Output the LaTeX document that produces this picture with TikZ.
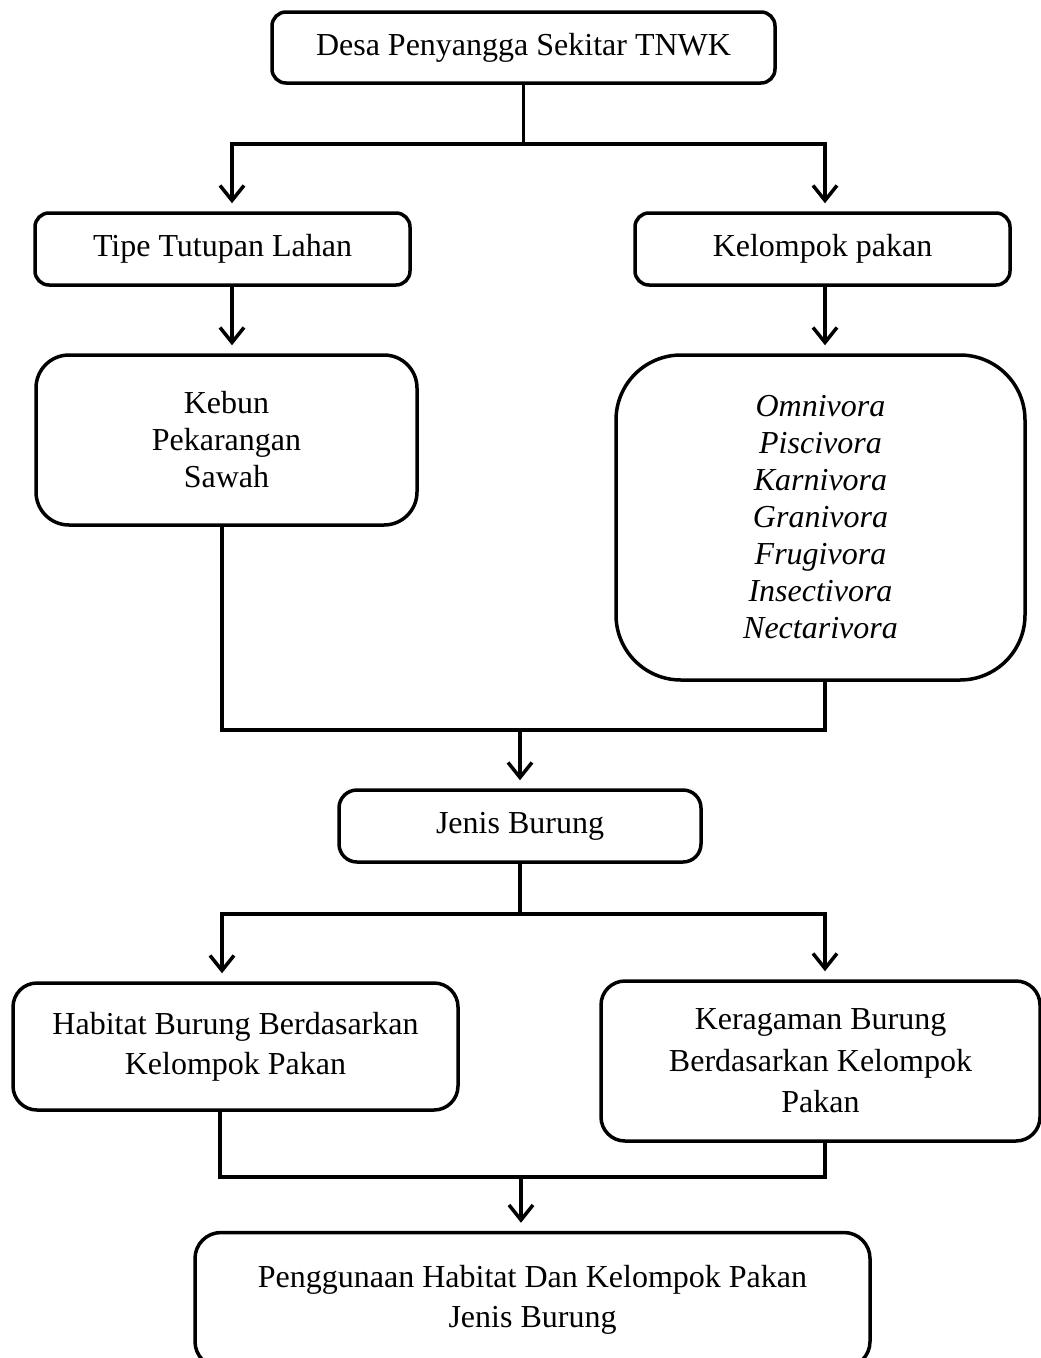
\documentclass[tikz,border=0pt]{standalone}
\usepackage{fontspec}
\setmainfont{Liberation Serif}
\usetikzlibrary{arrows.meta}

\tikzset{
  box/.style={draw, line width=3.5pt, rounded corners=14pt, align=center, inner sep=0pt},
  conn/.style={line width=3.5pt},
  arr/.style={conn, -{Straight Barb[length=15pt,width=24pt]}, shorten >=8pt},
}

\begin{document}
\begin{tikzpicture}[x=1pt, y=-1pt, font=\fontsize{32}{40}\selectfont]
  \useasboundingbox (0,0) rectangle (1041,1358);

  \node[box, minimum width=503pt, minimum height=71pt] (desa) at (523.5,47.5) {Desa Penyangga Sekitar TNWK};

  \node[box, minimum width=375pt, minimum height=72pt] (tipe) at (222.5,249) {Tipe Tutupan Lahan};
  \node[box, minimum width=375pt, minimum height=72pt] (kelompok) at (822.5,249) {Kelompok pakan};

  \node[box, rounded corners=33pt, minimum width=381pt, minimum height=170pt,
        font=\fontsize{32}{37}\selectfont] (kebun) at (226.5,440) {Kebun\\Pekarangan\\Sawah};
  \node[box, rounded corners=65pt, minimum width=409pt, minimum height=325pt,
        font=\fontsize{32}{37}\selectfont\itshape] (omni) at (820.5,517.5)
        {Omnivora\\Piscivora\\Karnivora\\Granivora\\Frugivora\\Insectivora\\Nectarivora};

  \node[box, rounded corners=18pt, minimum width=362pt, minimum height=72pt] (jenis) at (520,826) {Jenis Burung};

  \node[box, rounded corners=24pt, minimum width=445pt, minimum height=127pt] (habitat) at (235.5,1046.5)
        {Habitat Burung Berdasarkan\\Kelompok Pakan};
  \node[box, rounded corners=24pt, minimum width=439pt, minimum height=160pt,
        font=\fontsize{32}{41.5}\selectfont] (keragaman) at (820.5,1061)
        {Keragaman Burung\\Berdasarkan Kelompok\\Pakan};

  \node[box, rounded corners=26pt, minimum width=675pt, minimum height=135pt] (guna) at (532.5,1300)
        {Penggunaan Habitat Dan Kelompok Pakan\\Jenis Burung};

  % split from the top box
  \coordinate (s1) at ([yshift=-59pt]desa.south);
  \draw[conn] (desa.south) -- (s1);
  \draw[arr] (s1) -| ([xshift=9.5pt]tipe.north);
  \draw[arr] (s1) -| ([xshift=2.5pt]kelompok.north);

  \draw[arr] ([xshift=9.5pt]tipe.south) -- ([xshift=9.5pt]tipe.south |- kebun.north);
  \draw[arr] ([xshift=2.5pt]kelompok.south) -- ([xshift=2.5pt]kelompok.south |- omni.north);

  % join into Jenis Burung
  \coordinate (m1) at (520,730);
  \draw[conn] ([xshift=-4.5pt]kebun.south) |- (m1) -| ([xshift=4.5pt]omni.south);
  \draw[arr] (m1) -- (m1 |- jenis.north);

  % second split
  \coordinate (s2) at ([yshift=-50pt]jenis.south);
  \draw[conn] (jenis.south) -- (s2);
  \draw[arr] (s2) -| ([xshift=-13.5pt]habitat.north);
  \draw[arr] (s2) -| ([xshift=4.5pt]keragaman.north);

  % join into the last box
  \coordinate (m2) at (521,1177);
  \draw[conn] ([xshift=-15.5pt]habitat.south) |- (m2) -| ([xshift=4.5pt]keragaman.south);
  \draw[arr] (m2) -- (m2 |- guna.north);
\end{tikzpicture}
\end{document}
